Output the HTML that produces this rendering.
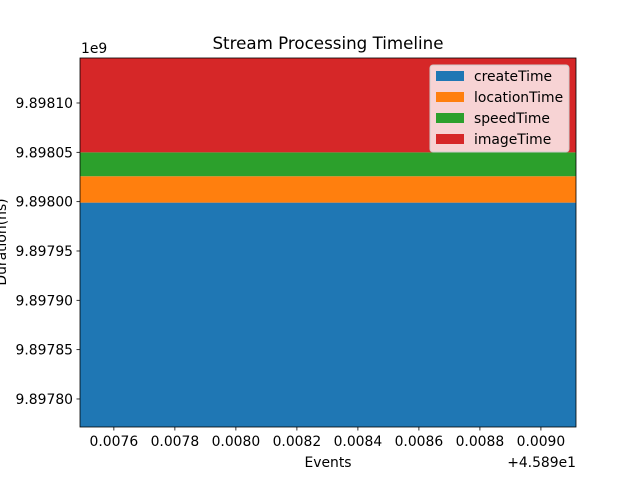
<!DOCTYPE html>
<html><head><meta charset="utf-8"><style>
body{margin:0;background:#fff;}
svg{font-family:"DejaVu Sans","Liberation Sans",sans-serif;}
</style></head><body>
<svg id="chart" width="640" height="480" viewBox="0 0 640 480">
<rect width="640" height="480" fill="#fff"/>
<g id="areas"></g>
<rect x="80" y="58" width="496" height="369" fill="none" stroke="#000" stroke-width="0.8"/>
<g id="xt"></g>
<g id="yt"></g>
<text x="328" y="49" font-size="16.7" text-anchor="middle">Stream Processing Timeline</text>
<text x="81" y="53" font-size="13.9">1e9</text>
<text x="328" y="467" font-size="13.9" text-anchor="middle">Events</text>
<text x="576" y="467" font-size="13.9" text-anchor="end">+4.589e1</text>
<text transform="translate(6,242) rotate(-90)" font-size="13.9" text-anchor="middle">Duration(ns)</text>
<g id="legend"></g>
</svg>
<script>
const events = [45.897489, 45.899115];
const createTime = [9897999000, 9897999000];
const locationTime = [26700, 26700];
const speedTime = [24300, 24300];
const imageTime = [95600, 95600];
const seriesNames = ["createTime","locationTime","speedTime","imageTime"];
const colors = ["#1f77b4","#ff7f0e","#2ca02c","#d62728"];
const xTicks = [0.0076,0.0078,0.0080,0.0082,0.0084,0.0086,0.0088,0.0090];
const xTickLabels = ["0.0076","0.0078","0.0080","0.0082","0.0084","0.0086","0.0088","0.0090"];
const yTicks = [9897800000,9897850000,9897900000,9897950000,9898000000,9898050000,9898100000];
const yTickLabels = ["9.89780","9.89785","9.89790","9.89795","9.89800","9.89805","9.89810"];
const xOffset = 45.89;
const NS="http://www.w3.org/2000/svg";
const X0=80,X1=576,Y0=427,Y1=58;
const xmin=events[0], xmax=events[events.length-1];
const ymin=9897771600, ymax=9898145600;
const sx=v=>X0+(v-xmin)/(xmax-xmin)*(X1-X0);
const sy=v=>Y0-(v-ymin)/(ymax-ymin)*(Y0-Y1);
function mk(tag,attrs,parent){const e=document.createElementNS(NS,tag);for(const k in attrs)e.setAttribute(k,attrs[k]);parent.appendChild(e);return e;}
const areas=document.getElementById('areas');
const clip=mk('clipPath',{id:'cp'},areas);mk('rect',{x:X0,y:Y1,width:X1-X0,height:Y0-Y1},clip);
const series=[createTime,locationTime,speedTime,imageTime];
let base=events.map(()=>ymin);
series.forEach((s,i)=>{
  const top=base.map((b,j)=>(i===0?0:b)+s[j]);
  const bot=i===0?events.map(()=>ymin):base;
  let d="M"+events.map((x,j)=>sx(x)+","+sy(top[j])).join("L");
  d+="L"+events.map((x,j)=>sx(x)+","+sy(bot[j])).reverse().join("L")+"Z";
  const p=mk('path',{d:d,fill:colors[i],'clip-path':'url(#cp)'},areas);
  
  
  base=top;
});
const xt=document.getElementById('xt');
xTicks.forEach((t,i)=>{const x=sx(t+xOffset);
  const l=mk('line',{x1:x,x2:x,y1:Y0,y2:Y0+3.5,stroke:'#000','stroke-width':0.8},xt);
  
  
  const tx=mk('text',{x:x,y:Y0+19,'font-size':13.9,'text-anchor':'middle'},xt);tx.textContent=xTickLabels[i];
  
  
});
const yt=document.getElementById('yt');
yTicks.forEach((t,i)=>{const y=sy(t);
  const l=mk('line',{x1:X0-3.5,x2:X0,y1:y,y2:y,stroke:'#000','stroke-width':0.8},yt);
  
  
  const tx=mk('text',{x:X0-7,y:y+5,'font-size':13.9,'text-anchor':'end'},yt);tx.textContent=yTickLabels[i];
  
  
});
const lg=document.getElementById('legend');
const box=mk('rect',{x:430,y:65,width:139,height:87,rx:3,fill:'#fff','fill-opacity':0.8,stroke:'#ccc'},lg);


seriesNames.forEach((n,i)=>{const y=76+i*21;
  const r=mk('rect',{x:436,y:y-5,width:28,height:10,fill:colors[i]},lg);
  
  
  const tx=mk('text',{x:474,y:y+5,'font-size':13.9},lg);tx.textContent=n;
  
  
});
</script>
</body></html>
